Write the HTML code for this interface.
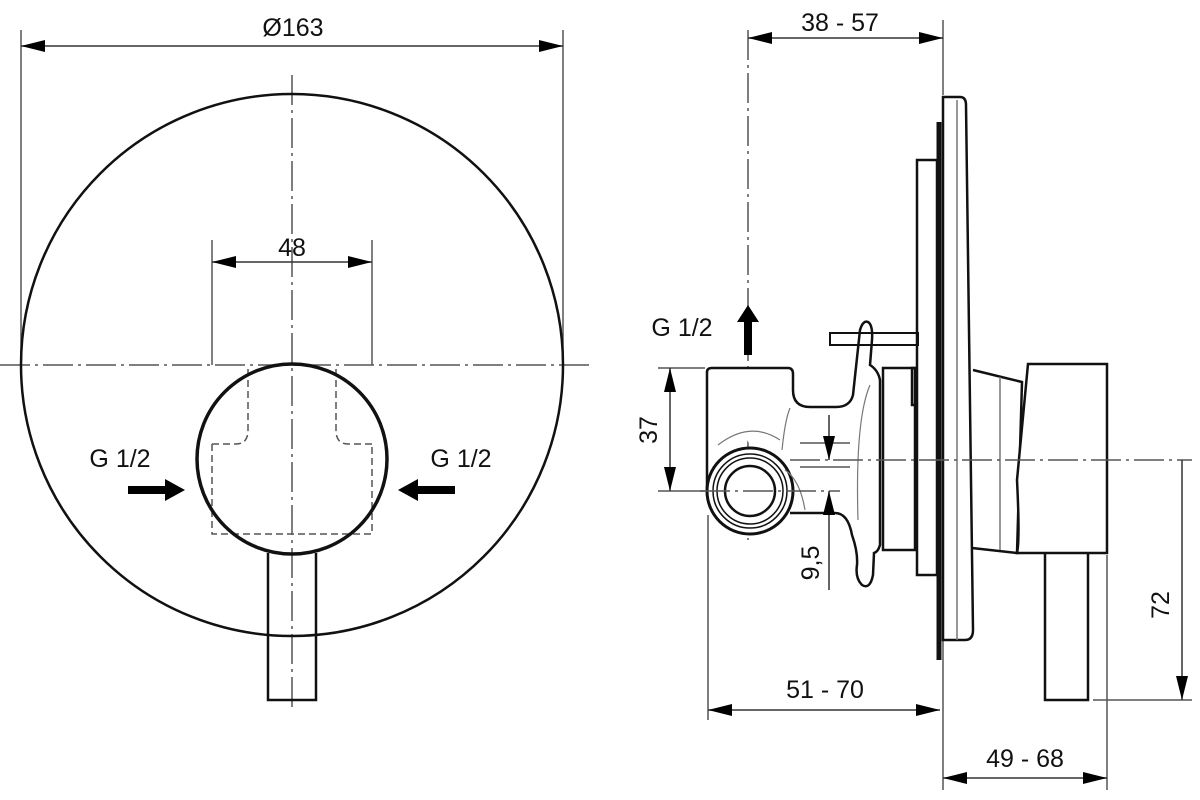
<!DOCTYPE html>
<html><head><style>html,body{margin:0;padding:0;background:#fff}svg{display:block}</style></head>
<body>
<svg width="1200" height="800" viewBox="0 0 1200 800" xmlns="http://www.w3.org/2000/svg" font-family="Liberation Sans, sans-serif">
<defs>
<marker id="a" viewBox="0 0 24 12" refX="24" refY="6" markerWidth="24" markerHeight="12" markerUnits="userSpaceOnUse" orient="auto-start-reverse"><path d="M0,0 L24,6 L0,12 z" fill="#000"/></marker>
</defs>
<g stroke="#555" stroke-width="1.5" fill="none">
<line x1="0" y1="365" x2="590" y2="365" stroke-dasharray="30,5,3,5"/>
<line x1="292" y1="75" x2="292" y2="712" stroke-dasharray="30,5,3,5"/>
<line x1="21" y1="30" x2="21" y2="365"/>
<line x1="563" y1="30" x2="563" y2="365"/>
<line x1="212" y1="240" x2="212" y2="365"/>
<line x1="372" y1="240" x2="372" y2="365"/>
<path d="M212,444 H236 Q248,444 248,430 V365 M372,444 H348 Q336,444 336,430 V365 M212,444 V534 H372 V444" stroke-dasharray="7,4"/>
<line x1="748" y1="30" x2="748" y2="540" stroke-dasharray="30,5,3,5"/>
<line x1="943" y1="20" x2="943" y2="95"/>
<line x1="658" y1="368" x2="705" y2="368"/>
<line x1="658" y1="491" x2="705" y2="491"/>
<line x1="708" y1="515" x2="708" y2="720"/>
<line x1="943" y1="640" x2="943" y2="790"/>
<line x1="1107" y1="555" x2="1107" y2="790"/>
<line x1="1093" y1="700" x2="1192" y2="700"/>
</g>
<g stroke="#111" stroke-width="2.5" fill="none">
<circle cx="292" cy="365" r="271" stroke-width="2.5"/>
<circle cx="292" cy="459" r="95" stroke-width="3.5"/>
<path d="M268,553 V700 H316 V553"/>
<path d="M707,372 Q707,368 712,368 H788 Q793,368 793,374 V390 Q793,407 810,407 H836 Q850,407 853,395 L860,330 Q863,320 868,322 Q873,325 872,340 L870,365 Q878,370 880,380 V545 Q878,552 874,553 L873,575 Q870,590 862,585 Q855,578 857,565 Q858,552 852,535 Q848,513 835,513 H790" fill="#fff"/>
<path d="M707,372 V491" />
<circle cx="750" cy="491" r="43" fill="#fff" stroke-width="3"/>
<circle cx="750" cy="491" r="37" stroke-width="1.5"/>
<circle cx="750" cy="491" r="33" stroke-width="1.5"/>
<circle cx="750" cy="491" r="25" stroke-width="2.5"/>
<rect x="883" y="368" width="32" height="182" fill="#fff"/>
<rect x="912" y="368" width="5" height="37"/>
<rect x="917" y="160" width="20" height="415" fill="#fff"/>
<line x1="939" y1="122" x2="939" y2="660" stroke-width="5"/>
<path d="M943,640 V97 H960 Q966,97 966,105 L973,630 Q973,640 965,640 Z" fill="#fff"/>
<line x1="957" y1="100" x2="957" y2="640" stroke="#777" stroke-width="1.5"/>
<path d="M973,370 L1022,382 L1017,553 L972,548"/>
<line x1="1000" y1="377" x2="1000" y2="550" stroke="#777" stroke-width="1.5"/>
<path d="M1028,364 H1107 V553 H1017 Q1020,540 1017,480 Z" fill="#fff"/>
<path d="M1045,553 V700 H1088 V553"/>
<rect x="830" y="333" width="88" height="12" stroke-width="2"/>
</g>
<g stroke="#777" stroke-width="1.2" fill="none">
<path d="M718,445 Q750,420 780,440 M790,408 Q785,420 782,450 M785,470 Q800,480 805,510 M870,385 Q855,420 858,520"/>
</g>
<g stroke="#555" stroke-width="1.5" fill="none">
<line x1="790" y1="460" x2="1192" y2="460" stroke-dasharray="30,5,3,5"/>
<line x1="700" y1="491" x2="840" y2="491" stroke-dasharray="30,5,3,5"/>
<line x1="800" y1="443" x2="850" y2="443"/>
<line x1="800" y1="467" x2="850" y2="467"/>
</g>
<g stroke="#333" stroke-width="1.5" fill="none">
<line x1="21" y1="46" x2="563" y2="46" marker-start="url(#a)" marker-end="url(#a)"/>
<line x1="212" y1="262" x2="372" y2="262" marker-start="url(#a)" marker-end="url(#a)"/>
<line x1="748" y1="38" x2="943" y2="38" marker-start="url(#a)" marker-end="url(#a)"/>
<line x1="670" y1="368" x2="670" y2="491" marker-start="url(#a)" marker-end="url(#a)"/>
<line x1="708" y1="710" x2="940" y2="710" marker-start="url(#a)" marker-end="url(#a)"/>
<line x1="943" y1="778" x2="1107" y2="778" marker-start="url(#a)" marker-end="url(#a)"/>
<line x1="1182" y1="460" x2="1182" y2="700" marker-end="url(#a)"/>
<line x1="829" y1="415" x2="829" y2="460" marker-end="url(#a)"/>
<line x1="829" y1="590" x2="829" y2="491" marker-end="url(#a)"/>
</g>
<g fill="#000">
<path d="M128,486 H165 V479 L185,490 L165,501 V494 H128 Z"/>
<path d="M455,486 H418 V479 L398,490 L418,501 V494 H455 Z"/>
<path d="M744,355 V322 H737 L748,305 L759,322 H752 V355 Z"/>
</g>
<g font-size="25" fill="#111" text-anchor="middle">
<text x="293" y="36">Ø163</text>
<text x="292" y="256">48</text>
<text x="120" y="467">G 1/2</text>
<text x="461" y="467">G 1/2</text>
<text x="682" y="336">G 1/2</text>
<text x="840" y="31">38 - 57</text>
<text x="825" y="698">51 - 70</text>
<text x="1025" y="767">49 - 68</text>
<text transform="translate(657,430) rotate(-90)">37</text>
<text transform="translate(819,563) rotate(-90)">9,5</text>
<text transform="translate(1169,605) rotate(-90)">72</text>
</g>
</svg>
</body></html>
